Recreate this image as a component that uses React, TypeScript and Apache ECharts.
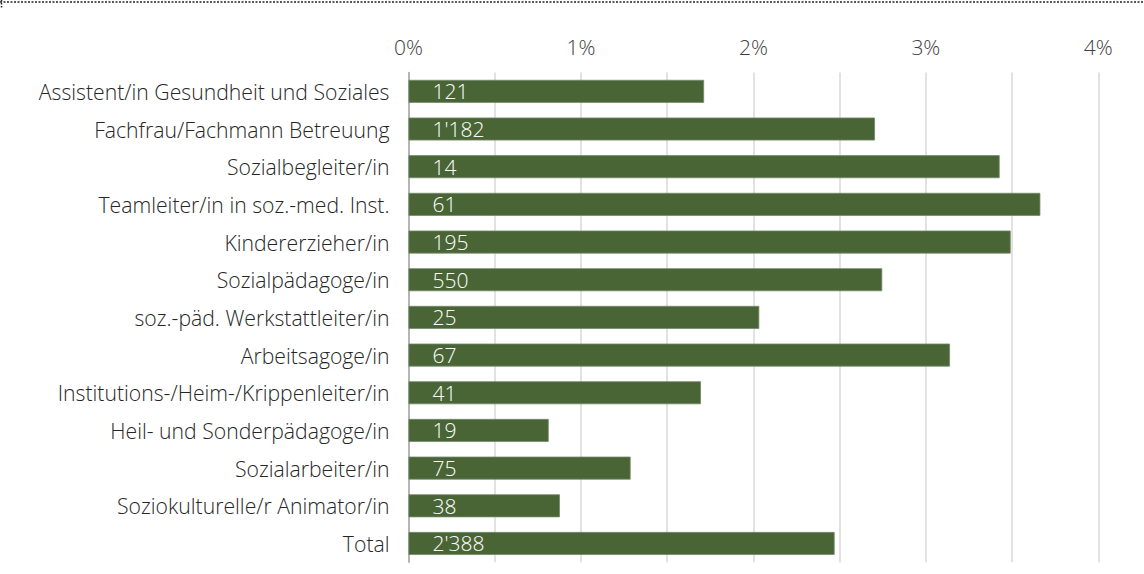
import React, { useEffect, useRef } from "react";
import * as echarts from "echarts";

const categories = [
  "Assistent/in Gesundheit und Soziales",
  "Fachfrau/Fachmann Betreuung",
  "Sozialbegleiter/in",
  "Teamleiter/in in soz.-med. Inst.",
  "Kindererzieher/in",
  "Sozialpädagoge/in",
  "soz.-päd. Werkstattleiter/in",
  "Arbeitsagoge/in",
  "Institutions-/Heim-/Krippenleiter/in",
  "Heil- und Sonderpädagoge/in",
  "Sozialarbeiter/in",
  "Soziokulturelle/r Animator/in",
  "Total",
];
const shares = [1.714, 2.705, 3.428, 3.664, 3.492, 2.747, 2.034, 3.14, 1.696, 0.813, 1.288, 0.878, 2.471];
const counts = [121, 1182, 14, 61, 195, 550, 25, 67, 41, 19, 75, 38, 2388];
const tickLabels = ["0%", "1%", "2%", "3%", "4%"];

const FONT = "'Open Sans', 'Noto Sans', sans-serif";

function fmtCount(n: number): string {
  return String(n).replace(/\B(?=(\d{3})+(?!\d))/g, "'");
}

export default function App() {
  const ref = useRef<HTMLDivElement>(null);
  useEffect(() => {
    if (!ref.current) return;
    const chart = echarts.init(ref.current, null, { renderer: "svg" });
    chart.setOption({
      animation: false,
      backgroundColor: "#ffffff",
      grid: { left: 408.5, right: 45.7, top: 72.5, bottom: 11.7, containLabel: false },
      xAxis: {
        type: "value",
        position: "top",
        min: 0,
        max: 4,
        interval: 0.5,
        axisLine: { show: false },
        axisTick: { show: false },
        splitLine: { show: true, lineStyle: { color: "#d9d9d9", width: 1.5 } },
        axisLabel: {
          margin: 15,
          fontFamily: FONT,
          fontWeight: 300,
          fontSize: 21,
          color: "#404040",
          formatter: (v: number) => {
            const i = Math.round(v);
            return Math.abs(v - i) < 1e-6 ? tickLabels[i] : "";
          },
        },
      },
      yAxis: {
        type: "category",
        inverse: true,
        data: categories,
        axisLine: { show: true, lineStyle: { color: "#a6a6a6", width: 1.5 } },
        axisTick: { show: false },
        axisLabel: { margin: 19, fontFamily: FONT, fontWeight: 300, fontSize: 21.2, color: "#262626" },
      },
      series: [
        {
          type: "bar",
          data: shares.map((v, i) => ({ value: v, count: counts[i] })),
          barCategoryGap: "39%",
          itemStyle: { color: "#4a6535", borderColor: "#74896a", borderWidth: 0.8 },
          label: {
            show: true,
            position: "insideLeft",
            distance: 24,
            fontFamily: FONT,
            fontWeight: 300,
            fontSize: 21,
            color: "#ffffff",
            formatter: (p: any) => fmtCount(counts[p.dataIndex]),
          },
        },
      ],
      graphic: [
        { type: "line", shape: { x1: 0, y1: 2, x2: 1144, y2: 2 }, style: { stroke: "#222", lineWidth: 1.5, lineDash: [2, 1.5] } },
        { type: "line", shape: { x1: 1.5, y1: 0, x2: 1.5, y2: 8 }, style: { stroke: "#222", lineWidth: 1.5, lineDash: [1.5, 1.5] } },
      ],
    });
    return () => chart.dispose();
  }, []);
  return <div ref={ref} style={{ position: "fixed", left: 0, top: 0, width: 1144, height: 574 }} />;
}
